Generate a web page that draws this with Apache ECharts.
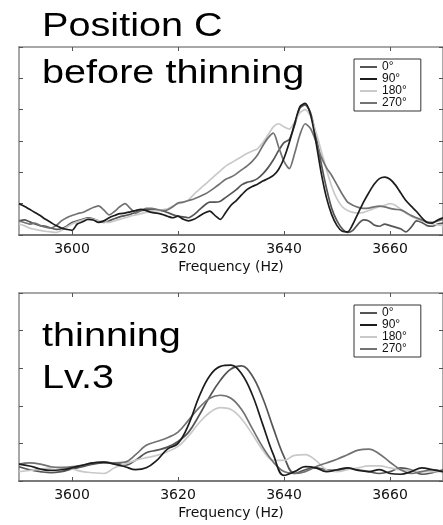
<!DOCTYPE html>
<html>
<head>
<meta charset="utf-8">
<script src="https://cdn.jsdelivr.net/npm/echarts@6/dist/echarts.min.js"></script>
<style>
html,body{margin:0;padding:0;background:#fff;}
#chart{width:443px;height:525px;}
</style>
</head>
<body>
<div id="chart"></div>
<script>
// ---- data ----
const seriesNames = ['0°', '90°', '180°', '270°'];
const tickLabels = [3600, 3620, 3640, 3660];

// Top panel (before thinning), 1 Hz steps from 3590 to 3670
const topStart = 3590, topStep = 1;
const top0 = [0.45,0.48,0.42,0.35,0.30,0.28,0.22,0.18,0.20,0.28,
  0.40,0.45,0.50,0.55,0.52,0.45,0.40,0.45,0.52,0.58,
  0.62,0.66,0.72,0.78,0.80,0.82,0.80,0.78,0.72,0.65,
  0.60,0.58,0.55,0.65,0.80,0.95,1.05,1.05,1.08,1.20,
  1.32,1.45,1.60,1.68,1.72,1.80,1.95,2.15,2.40,2.70,
  2.95,3.05,3.50,4.05,4.15,3.90,3.20,2.30,1.50,0.85,
  0.45,0.20,0.08,0.15,0.35,0.48,0.45,0.32,0.28,0.35,
  0.30,0.25,0.20,0.10,0.25,0.45,0.40,0.30,0.28,0.35,
  0.38];
const top90 = [1.00,0.92,0.82,0.72,0.62,0.50,0.40,0.30,0.22,0.18,
  0.15,0.35,0.42,0.50,0.48,0.40,0.45,0.55,0.62,0.68,
  0.70,0.74,0.78,0.82,0.78,0.72,0.70,0.66,0.60,0.55,
  0.60,0.50,0.45,0.50,0.60,0.70,0.76,0.62,0.50,0.72,
  0.95,1.10,1.28,1.45,1.55,1.62,1.72,1.80,1.90,2.10,
  2.45,2.95,3.55,4.10,4.20,3.85,3.00,2.00,1.20,0.65,
  0.30,0.12,0.10,0.35,0.70,1.05,1.35,1.62,1.80,1.85,
  1.78,1.60,1.35,1.10,0.92,0.75,0.55,0.40,0.38,0.48,
  0.55];
const top180 = [0.35,0.30,0.22,0.18,0.15,0.12,0.10,0.08,0.15,0.25,
  0.35,0.42,0.48,0.52,0.50,0.45,0.42,0.40,0.45,0.50,
  0.55,0.60,0.64,0.68,0.72,0.75,0.78,0.80,0.84,0.92,
  1.00,1.05,1.12,1.30,1.45,1.60,1.75,1.90,2.05,2.20,
  2.30,2.40,2.50,2.60,2.68,2.75,2.95,3.20,3.45,3.55,
  3.45,3.38,3.60,3.90,4.00,3.80,3.30,2.70,2.10,1.55,
  1.15,0.90,0.78,0.72,0.70,0.72,0.78,0.85,0.90,0.95,
  1.00,0.95,0.82,0.70,0.60,0.52,0.45,0.40,0.35,0.32,
  0.30];
const top270 = [0.45,0.40,0.35,0.38,0.30,0.25,0.22,0.30,0.45,0.55,
  0.62,0.68,0.72,0.80,0.88,0.93,0.80,0.64,0.75,0.90,
  1.00,0.85,0.70,0.78,0.85,0.85,0.82,0.78,0.80,0.90,
  1.02,1.05,1.10,1.15,1.22,1.30,1.40,1.52,1.65,1.78,
  1.85,1.95,2.08,2.20,2.35,2.55,2.85,3.10,3.25,2.80,
  2.35,2.12,2.60,3.20,3.55,3.40,3.00,2.50,2.15,1.90,
  1.60,1.30,1.05,0.95,0.88,0.85,0.86,0.90,0.92,0.90,
  0.85,0.82,0.80,0.72,0.62,0.55,0.48,0.42,0.40,0.45,
  0.50];

// Bottom panel (thinning Lv.3), 2 Hz steps from 3590 to 3670
const botStart = 3590, botStep = 2;
const bot0 = [0.38,0.30,0.25,0.22,0.25,0.32,0.38,0.45,0.48,0.48,
  0.42,0.55,0.75,0.82,0.90,1.05,1.30,1.75,2.25,2.68,
  2.98,3.06,2.80,2.20,1.40,0.65,0.20,0.30,0.35,0.30,
  0.28,0.32,0.30,0.25,0.20,0.25,0.35,0.30,0.18,0.22,
  0.30];
const bot90 = [0.45,0.40,0.32,0.28,0.30,0.35,0.42,0.48,0.50,0.45,
  0.38,0.30,0.35,0.55,0.85,1.00,1.50,2.25,2.80,3.05,
  3.08,2.85,2.30,1.50,0.70,0.15,0.25,0.38,0.35,0.25,
  0.30,0.35,0.28,0.25,0.30,0.20,0.18,0.25,0.35,0.30,
  0.25];
const bot180 = [0.25,0.28,0.32,0.35,0.38,0.32,0.25,0.22,0.20,0.35,
  0.45,0.55,0.62,0.68,0.78,0.92,1.20,1.55,1.82,1.95,
  1.90,1.65,1.25,0.82,0.55,0.55,0.68,0.70,0.55,0.30,
  0.25,0.30,0.35,0.40,0.40,0.35,0.30,0.28,0.25,0.25,
  0.25];
const bot270 = [0.45,0.48,0.45,0.38,0.35,0.38,0.42,0.48,0.50,0.48,
  0.50,0.70,0.95,1.05,1.15,1.30,1.62,1.95,2.20,2.28,
  2.20,1.90,1.40,0.90,0.50,0.25,0.20,0.25,0.38,0.48,
  0.58,0.70,0.82,0.85,0.72,0.50,0.30,0.20,0.25,0.30,
  0.25];

const colors = ['#555555', '#1c1c1c', '#c9c9c9', '#727272'];
const topData = [top0, top90, top180, top270];
const botData = [bot0, bot90, bot180, bot270];

function pairs(arr, start, step) {
  return arr.map((v, i) => [start + i * step, v]);
}

const chart = echarts.init(document.getElementById('chart'), null, {renderer: 'canvas'});

const grids = [
  {left: 19, top: 47, width: 426, height: 188},
  {left: 19, top: 293, width: 426, height: 188}
];

function bottomX(gi) {
  return {
    type: 'value', gridIndex: gi, position: 'bottom', min: 3590, max: 3670,
    name: 'Frequency (Hz)', nameLocation: 'middle', nameGap: 25,
    nameTextStyle: {fontFamily: 'DejaVu Sans', fontSize: 14, color: '#111'},
    axisLine: {show: true, onZero: false, lineStyle: {color: '#7a7a7a', width: 2}},
    axisTick: {show: true, inside: true, length: 4, customValues: tickLabels, lineStyle: {color: '#555', width: 1}},
    axisLabel: {show: true, margin: 7, customValues: tickLabels, formatter: v => String(v),
      fontFamily: 'DejaVu Sans', fontSize: 14, color: '#111'},
    splitLine: {show: false}
  };
}
function topX(gi) {
  return {
    type: 'value', gridIndex: gi, position: 'top', min: 3590, max: 3670,
    axisLine: {show: true, onZero: false, lineStyle: {color: '#8a8a8a', width: 1.5}},
    axisTick: {show: true, inside: true, length: 4, customValues: tickLabels, lineStyle: {color: '#555', width: 1}},
    axisLabel: {show: false},
    splitLine: {show: false}
  };
}
function yAx(gi, max, pos) {
  return {
    type: 'value', gridIndex: gi, position: pos, min: 0, max: max, interval: 1,
    axisLine: {show: true, onZero: false, lineStyle: {color: '#8a8a8a', width: 1.5}},
    axisTick: {show: true, inside: true, length: 4, lineStyle: {color: '#555', width: 1}},
    axisLabel: {show: false},
    splitLine: {show: false}
  };
}

const series = [];
seriesNames.forEach((n, i) => {
  series.push({
    name: n, type: 'line', xAxisIndex: 0, yAxisIndex: 0,
    data: pairs(topData[i], topStart, topStep),
    showSymbol: false, symbol: 'none', smooth: 0.25,
    lineStyle: {color: colors[i], width: 1.7},
    itemStyle: {color: colors[i]},
    z: i === 1 ? 5 : 3
  });
});
seriesNames.forEach((n, i) => {
  series.push({
    name: n, type: 'line', xAxisIndex: 2, yAxisIndex: 2,
    data: pairs(botData[i], botStart, botStep),
    showSymbol: false, symbol: 'none', smooth: 0.4,
    lineStyle: {color: colors[i], width: 1.7},
    itemStyle: {color: colors[i]},
    z: i === 1 ? 5 : 3
  });
});

function legend(top) {
  return {
    data: seriesNames, orient: 'vertical', left: 354, top: top,
    icon: 'rect', itemWidth: 17, itemHeight: 2, itemGap: 0,
    padding: [2, 14, 2, 6],
    borderColor: '#333', borderWidth: 1, backgroundColor: '#fff',
    selectedMode: false,
    textStyle: {fontFamily: 'Liberation Sans', fontSize: 12, color: '#111', lineHeight: 11.7, padding: [0, 0, 0, 0]}
  };
}

const bigFont = 'Liberation Sans';
function bigText(str, x, y) {
  return {
    type: 'text', x: x, y: y, scaleX: 1.22, scaleY: 1, z: 100,
    style: {text: str, font: '32.5px "' + bigFont + '"', fill: '#000', verticalAlign: 'middle', align: 'left'}
  };
}

chart.setOption({
  animation: false,
  backgroundColor: '#fff',
  grid: grids,
  xAxis: [bottomX(0), topX(0), bottomX(1), topX(1)],
  yAxis: [yAx(0, 6, 'left'), yAx(0, 6, 'right'), yAx(1, 5, 'left'), yAx(1, 5, 'right')],
  legend: [legend(59), legend(305)],
  series: series,
  graphic: [
    bigText('Position C', 42, 27),
    bigText('before thinning', 42, 74),
    bigText('thinning', 42, 337),
    bigText('Lv.3', 42, 379)
  ]
});
</script>
</body>
</html>
